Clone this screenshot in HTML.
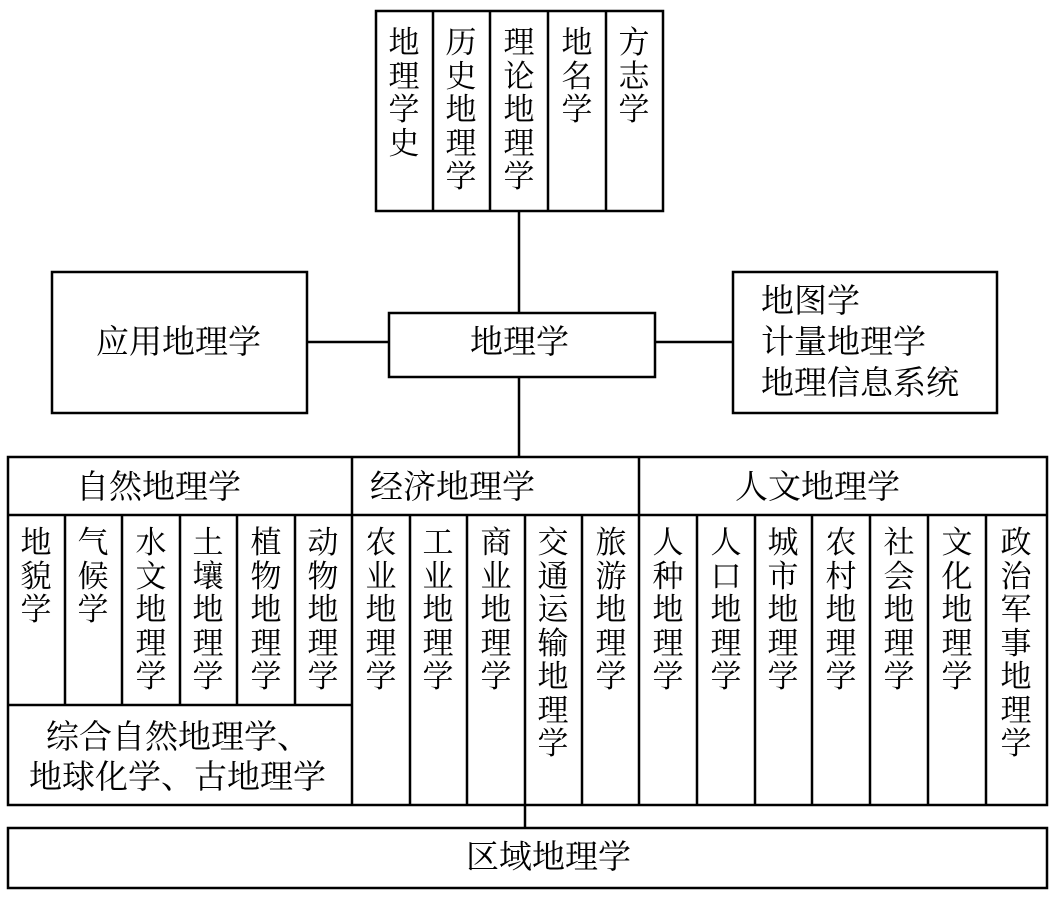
<!DOCTYPE html>
<html><head><meta charset="utf-8"><style>
html,body{margin:0;padding:0;background:#fff;}
body{width:1052px;height:899px;position:relative;overflow:hidden;font-family:"Liberation Serif","Noto Serif CJK SC",serif;color:#000;}
.v{position:absolute;width:40px;text-align:center;font-size:31px;line-height:33.5px;}
.h{position:absolute;font-size:33px;line-height:36px;white-space:nowrap;}
svg{position:absolute;left:0;top:0;}
</style></head><body>
<svg width="1052" height="899" fill="none" stroke="#000" stroke-width="2.5">
<rect x="376" y="11" width="287" height="200"/>
<line x1="433" y1="11" x2="433" y2="211"/><line x1="490" y1="11" x2="490" y2="211"/><line x1="548" y1="11" x2="548" y2="211"/><line x1="606" y1="11" x2="606" y2="211"/>
<line x1="519" y1="211" x2="519" y2="313"/>
<rect x="389" y="313" width="266" height="64"/>
<rect x="52" y="272" width="255" height="141"/>
<rect x="733" y="272" width="264" height="141"/>
<line x1="307" y1="342" x2="389" y2="342"/><line x1="655" y1="342" x2="733" y2="342"/>
<line x1="519" y1="377" x2="519" y2="457"/>
<rect x="8" y="457" width="1039" height="348"/>
<line x1="8" y1="515" x2="1047" y2="515"/>
<line x1="352" y1="457" x2="352" y2="805"/><line x1="639" y1="457" x2="639" y2="805"/>
<line x1="65" y1="515" x2="65" y2="705"/><line x1="122" y1="515" x2="122" y2="705"/><line x1="180" y1="515" x2="180" y2="705"/><line x1="237" y1="515" x2="237" y2="705"/><line x1="295" y1="515" x2="295" y2="705"/>
<line x1="8" y1="705" x2="352" y2="705"/>
<line x1="410" y1="515" x2="410" y2="805"/><line x1="467" y1="515" x2="467" y2="805"/><line x1="525" y1="515" x2="525" y2="805"/><line x1="582" y1="515" x2="582" y2="805"/>
<line x1="697" y1="515" x2="697" y2="805"/><line x1="755" y1="515" x2="755" y2="805"/><line x1="812" y1="515" x2="812" y2="805"/><line x1="870" y1="515" x2="870" y2="805"/><line x1="928" y1="515" x2="928" y2="805"/><line x1="986" y1="515" x2="986" y2="805"/>
<line x1="525" y1="805" x2="525" y2="828"/>
<rect x="8" y="828" width="1039" height="60"/>
</svg>
<div class="v" style="left:384px;top:26px">地<br>理<br>学<br>史</div>
<div class="v" style="left:441px;top:26px">历<br>史<br>地<br>理<br>学</div>
<div class="v" style="left:499px;top:26px">理<br>论<br>地<br>理<br>学</div>
<div class="v" style="left:557px;top:26px">地<br>名<br>学</div>
<div class="v" style="left:614px;top:26px">方<br>志<br>学</div>
<div class="h" style="left:96px;top:325px">应用地理学</div>
<div class="h" style="left:470px;top:325px">地理学</div>
<div class="h" style="left:761px;top:282px;line-height:41px">地图学<br>计量地理学<br>地理信息系统</div>
<div class="h" style="left:76px;top:470px">自然地理学</div>
<div class="h" style="left:370px;top:470px">经济地理学</div>
<div class="h" style="left:735px;top:470px">人文地理学</div>
<div class="v" style="left:16px;top:526px">地<br>貌<br>学</div>
<div class="v" style="left:73px;top:526px">气<br>候<br>学</div>
<div class="v" style="left:131px;top:526px">水<br>文<br>地<br>理<br>学</div>
<div class="v" style="left:188px;top:526px">土<br>壤<br>地<br>理<br>学</div>
<div class="v" style="left:246px;top:526px">植<br>物<br>地<br>理<br>学</div>
<div class="v" style="left:303px;top:526px">动<br>物<br>地<br>理<br>学</div>
<div class="h" style="left:46px;top:718px;line-height:40px">综合自然地理学、<br><span style="margin-left:-17px">地球化学、古地理学</span></div>
<div class="v" style="left:361px;top:526px">农<br>业<br>地<br>理<br>学</div>
<div class="v" style="left:418px;top:526px">工<br>业<br>地<br>理<br>学</div>
<div class="v" style="left:476px;top:526px">商<br>业<br>地<br>理<br>学</div>
<div class="v" style="left:533px;top:526px">交<br>通<br>运<br>输<br>地<br>理<br>学</div>
<div class="v" style="left:591px;top:526px">旅<br>游<br>地<br>理<br>学</div>
<div class="v" style="left:648px;top:526px">人<br>种<br>地<br>理<br>学</div>
<div class="v" style="left:706px;top:526px">人<br>口<br>地<br>理<br>学</div>
<div class="v" style="left:763px;top:526px">城<br>市<br>地<br>理<br>学</div>
<div class="v" style="left:821px;top:526px">农<br>村<br>地<br>理<br>学</div>
<div class="v" style="left:879px;top:526px">社<br>会<br>地<br>理<br>学</div>
<div class="v" style="left:937px;top:526px">文<br>化<br>地<br>理<br>学</div>
<div class="v" style="left:996px;top:526px">政<br>治<br>军<br>事<br>地<br>理<br>学</div>
<div class="h" style="left:466px;top:840px">区域地理学</div>
</body></html>
